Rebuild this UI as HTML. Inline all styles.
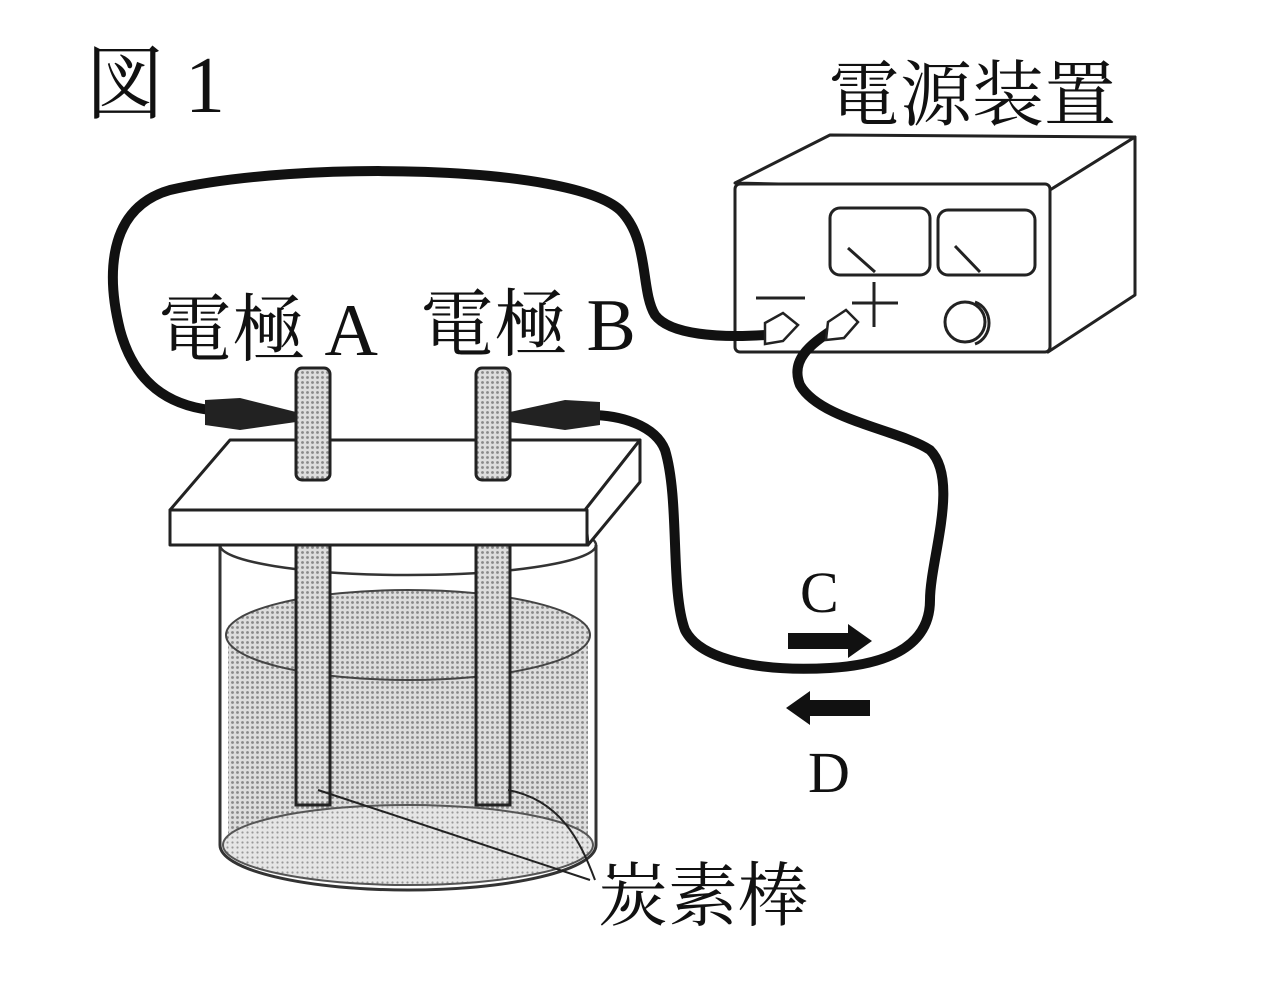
<!DOCTYPE html>
<html><head><meta charset="utf-8"><style>
body{margin:0;background:#fff}
svg{display:block}
text{font-family:"Liberation Serif","Noto Serif CJK SC",serif;fill:#111}
</style></head><body>
<svg width="1275" height="1000" viewBox="0 0 1275 1000">
<defs>
<pattern id="dot" width="5" height="5" patternUnits="userSpaceOnUse"><rect width="5" height="5" fill="#ddd"/><circle cx="2.5" cy="2.5" r="1.4" fill="#888"/></pattern>
<pattern id="dotl" width="5" height="5" patternUnits="userSpaceOnUse"><rect width="5" height="5" fill="#e6e6e6"/><circle cx="2.5" cy="2.5" r="1.1" fill="#999"/></pattern>
</defs>
<text x="85" y="112" font-size="80">図 1</text>
<text x="828" y="120" font-size="72">電源装置</text>
<!-- power supply -->
<g fill="#fff" stroke="#222" stroke-width="3" stroke-linejoin="round">
<path d="M735,183 L830,135 L1135,137 L1050,190 Z"/>
<path d="M1050,190 L1135,137 L1135,295 L1048,352 Z"/>
<rect x="735" y="184" width="315" height="168" rx="5"/>
<rect x="830" y="208" width="100" height="67" rx="10"/>
<rect x="938" y="210" width="97" height="65" rx="10"/>
<circle cx="965" cy="322" r="20"/>
<path d="M975,302 a20,22 0 0 1 0,42" fill="none"/>
</g>
<g stroke="#222" stroke-width="3">
<line x1="848" y1="248" x2="875" y2="272"/>
<line x1="955" y1="246" x2="980" y2="272"/>
<line x1="756" y1="298" x2="805" y2="298"/>
<line x1="852" y1="303" x2="898" y2="303"/>
<line x1="874" y1="282" x2="874" y2="327"/>
</g>
<!-- wires -->
<g fill="none" stroke="#111" stroke-width="10" stroke-linecap="round">
<path d="M765,335 C720,338 670,335 655,315 C640,290 650,240 620,210 C570,165 300,160 170,190 C100,210 110,290 120,330 C135,385 170,405 210,410"/>
<path d="M832,330 C810,345 790,360 800,385 C820,420 900,430 930,450 C960,480 930,560 930,600 C930,650 880,665 830,668 C760,672 700,660 685,630 C670,590 680,500 665,450 C655,425 620,415 590,415"/>
</g>
<!-- terminals -->
<g fill="#fff" stroke="#222" stroke-width="2.5">
<path d="M765,323 l18,-10 l15,12 l-15,16 l-18,3 Z"/>
<path d="M828,322 l18,-12 l12,12 l-14,16 l-18,2 Z"/>
</g>
<!-- beaker -->
<path d="M220,545 L220,845 A188,45 0 0 0 596,845 L596,545" fill="none" stroke="#333" stroke-width="3"/>
<path d="M228,625 L228,845 A180,40 0 0 0 588,845 L588,625 Z" fill="url(#dot)"/>
<ellipse cx="408" cy="635" rx="182" ry="45" fill="url(#dot)" stroke="#444" stroke-width="2"/>
<ellipse cx="408" cy="845" rx="185" ry="40" fill="url(#dotl)" stroke="#555" stroke-width="2"/>
<ellipse cx="408" cy="545" rx="188" ry="30" fill="none" stroke="#333" stroke-width="2.5"/>
<!-- rods lower -->
<rect x="296" y="545" width="34" height="260" fill="url(#dot)" stroke="#222" stroke-width="3"/>
<rect x="476" y="545" width="34" height="260" fill="url(#dot)" stroke="#222" stroke-width="3"/>
<!-- board -->
<g fill="#fff" stroke="#222" stroke-width="3" stroke-linejoin="round">
<path d="M230,440 L640,440 L585,510 L170,510 Z"/>
<path d="M585,510 L640,440 L640,482 L588,545 Z"/>
<rect x="170" y="510" width="417" height="35"/>
</g>
<!-- rods upper -->
<rect x="296" y="368" width="34" height="112" rx="6" fill="url(#dot)" stroke="#222" stroke-width="3"/>
<rect x="476" y="368" width="34" height="112" rx="6" fill="url(#dot)" stroke="#222" stroke-width="3"/>
<!-- clips -->
<path d="M205,400 L240,398 L296,412 L296,422 L240,430 L205,425 Z" fill="#222"/>
<path d="M600,402 L565,400 L510,412 L510,422 L565,430 L600,425 Z" fill="#222"/>
<text x="158" y="355" font-size="74">電極 A</text>
<text x="420" y="350" font-size="74">電極 B</text>
<!-- arrows -->
<text x="800" y="612" font-size="58">C</text>
<path d="M788,633 L848,633 L848,624 L872,641 L848,658 L848,649 L788,649 Z" fill="#111"/>
<path d="M870,700 L810,700 L810,691 L786,708 L810,725 L810,716 L870,716 Z" fill="#111"/>
<text x="808" y="792" font-size="58">D</text>
<!-- leader lines -->
<g fill="none" stroke="#222" stroke-width="2">
<path d="M318,790 L590,880"/>
<path d="M508,790 C560,800 580,840 595,880"/>
</g>
<text x="598" y="920" font-size="70">炭素棒</text>
</svg>
</body></html>
